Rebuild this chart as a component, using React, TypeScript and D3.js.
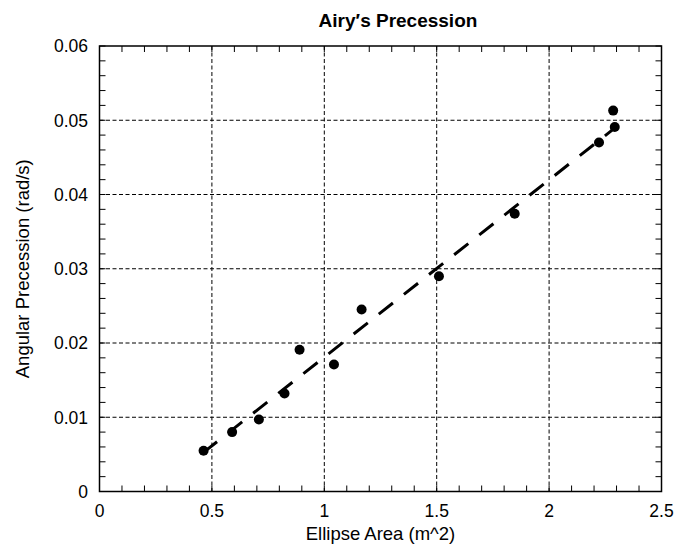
import { useEffect, useRef } from "react";
import * as d3 from "d3";

// measured points: ellipse area (m^2) vs angular precession (rad/s)
const areaX = [0.463, 0.59, 0.709, 0.823, 0.89, 1.043, 1.166, 1.51, 1.847, 2.222, 2.292, 2.285];
const precY = [0.0055, 0.008, 0.0097, 0.0132, 0.0191, 0.0171, 0.0245, 0.029, 0.0374, 0.047, 0.0491, 0.0513];

// fitted line end points
const fitX = [0.46, 2.29];
const fitY = [0.0052, 0.0489];

const xTickLabels = ["0", "0.5", "1", "1.5", "2", "2.5"];
const yTickLabels = ["0", "0.01", "0.02", "0.03", "0.04", "0.05", "0.06"];

export default function App() {
  const ref = useRef<SVGSVGElement>(null);

  useEffect(() => {
    const svg = d3.select(ref.current);
    svg.selectAll("*").remove();

    const left = 99.5,
      right = 661.5,
      top = 46,
      bottom = 491.5;
    const font = "'Liberation Sans', Arial, Helvetica, sans-serif";

    const x = d3.scaleLinear().domain([0, 2.5]).range([left, right]);
    const y = d3.scaleLinear().domain([0, 0.06]).range([bottom, top]);

    const xMajor = xTickLabels.map(Number);
    const yMajor = yTickLabels.map(Number);
    const xMinor = d3.range(0, 26).map((i) => i / 10);
    const yMinor = d3.range(0, 31).map((i) => i * 0.002);

    // grid
    const grid = svg.append("g").attr("stroke", "#000").attr("stroke-width", 1).attr("stroke-dasharray", "4,2.5");
    grid
      .selectAll("line.vx")
      .data(xMajor.slice(1, -1))
      .join("line")
      .attr("x1", (d) => x(d))
      .attr("x2", (d) => x(d))
      .attr("y1", top)
      .attr("y2", bottom);
    grid
      .selectAll("line.hy")
      .data(yMajor.slice(1, -1))
      .join("line")
      .attr("x1", left)
      .attr("x2", right)
      .attr("y1", (d) => y(d))
      .attr("y2", (d) => y(d));

    // ticks on all four sides, pointing in
    const t = 6;
    const ticks = svg.append("g").attr("stroke", "#000").attr("stroke-width", 1);
    ticks
      .selectAll("line.b")
      .data(xMinor)
      .join("line")
      .attr("x1", (d) => x(d))
      .attr("x2", (d) => x(d))
      .attr("y1", bottom)
      .attr("y2", bottom - t);
    ticks
      .selectAll("line.t")
      .data(xMinor)
      .join("line")
      .attr("x1", (d) => x(d))
      .attr("x2", (d) => x(d))
      .attr("y1", top)
      .attr("y2", top + t);
    ticks
      .selectAll("line.l")
      .data(yMinor)
      .join("line")
      .attr("x1", left)
      .attr("x2", left + t)
      .attr("y1", (d) => y(d))
      .attr("y2", (d) => y(d));
    ticks
      .selectAll("line.r")
      .data(yMinor)
      .join("line")
      .attr("x1", right)
      .attr("x2", right - t)
      .attr("y1", (d) => y(d))
      .attr("y2", (d) => y(d));

    // frame
    svg
      .append("rect")
      .attr("x", left)
      .attr("y", top)
      .attr("width", right - left)
      .attr("height", bottom - top)
      .attr("fill", "none")
      .attr("stroke", "#000")
      .attr("stroke-width", 1.5);

    // tick labels
    svg
      .append("g")
      .selectAll("text")
      .data(xTickLabels)
      .join("text")
      .attr("x", (d) => x(+d))
      .attr("y", 517)
      .attr("text-anchor", "middle")
      .attr("font-family", font)
      .attr("font-size", 17.5)
      .text((d) => d);
    svg
      .append("g")
      .selectAll("text")
      .data(yTickLabels)
      .join("text")
      .attr("x", 88)
      .attr("y", (d) => y(+d))
      .attr("dy", "0.36em")
      .attr("text-anchor", "end")
      .attr("font-family", font)
      .attr("font-size", 17.5)
      .text((d) => d);

    // fit line
    svg
      .append("path")
      .datum(fitX.map((v, i) => [v, fitY[i]] as [number, number]))
      .attr(
        "d",
        d3
          .line()
          .x((d) => x(d[0]))
          .y((d) => y(d[1]))
      )
      .attr("fill", "none")
      .attr("stroke", "#000")
      .attr("stroke-width", 3)
      .attr("stroke-dasharray", "18,14");

    // points
    svg
      .append("g")
      .selectAll("circle")
      .data(areaX)
      .join("circle")
      .attr("cx", (d) => x(d))
      .attr("cy", (_, i) => y(precY[i]))
      .attr("r", 5)
      .attr("fill", "#000");

    // titles
    svg
      .append("text")
      .attr("x", 398)
      .attr("y", 27)
      .attr("text-anchor", "middle")
      .attr("font-family", font)
      .attr("font-weight", "bold")
      .attr("font-size", 19)
      .text("Airy\u2032s Precession");
    svg
      .append("text")
      .attr("x", (left + right) / 2)
      .attr("y", 540)
      .attr("text-anchor", "middle")
      .attr("font-family", font)
      .attr("font-size", 18.5)
      .text("Ellipse Area (m^2)");
    svg
      .append("text")
      .attr("transform", `translate(29,${(top + bottom) / 2}) rotate(-90)`)
      .attr("text-anchor", "middle")
      .attr("font-family", font)
      .attr("font-size", 18.5)
      .text("Angular Precession (rad/s)");
  }, []);

  return (
    <svg
      ref={ref}
      width={676}
      height={549}
      style={{ position: "absolute", left: 0, top: 0, background: "#fff" }}
    />
  );
}
